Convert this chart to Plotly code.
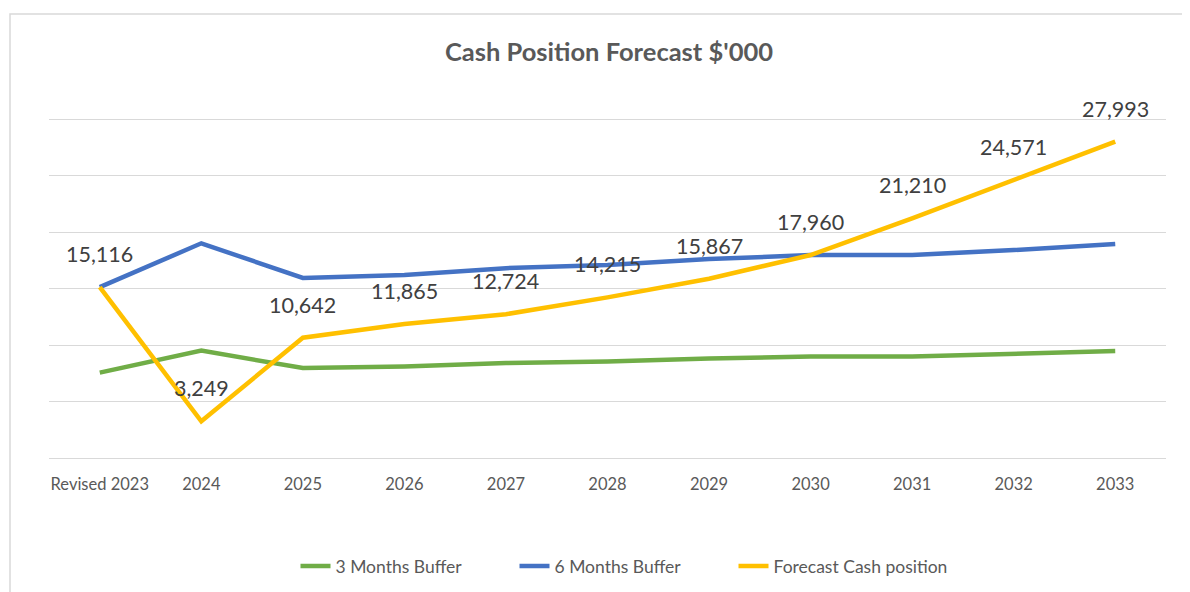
import plotly.graph_objects as go

categories = ["Revised 2023", "2024", "2025", "2026", "2027", "2028", "2029", "2030", "2031", "2032", "2033"]
buffer_3m = [7558, 9500, 7960, 8100, 8400, 8540, 8800, 8980, 8980, 9200, 9470]
buffer_6m = [15116, 19000, 15930, 16200, 16800, 17080, 17600, 17960, 17960, 18400, 18940]
forecast_cash = [15116, 3249, 10642, 11865, 12724, 14215, 15867, 17960, 21210, 24571, 27993]
y_ticks = [0, 5000, 10000, 15000, 20000, 25000, 30000]

FONT = "Lato, Calibri, 'Liberation Sans', sans-serif"

fig = go.Figure()
fig.add_trace(go.Scatter(x=categories, y=buffer_3m, mode="lines", name="3 Months Buffer",
                         line=dict(color="#70AD47", width=4.5)))
fig.add_trace(go.Scatter(x=categories, y=buffer_6m, mode="lines", name="6 Months Buffer",
                         line=dict(color="#4472C4", width=4.5)))
fig.add_trace(go.Scatter(x=categories, y=forecast_cash, mode="lines", name="Forecast Cash position",
                         line=dict(color="#FFC000", width=4.5)))

annotations = []
for i, v in enumerate(forecast_cash):
    annotations.append(dict(x=i, y=v, xref="x", yref="y", text=f"{v:,}", showarrow=False, yshift=33,
                            font=dict(family=FONT, size=21.5, color="#404040")))

# page body has an 8px offset; plot area (figure coords): left 41, right 1158, top 109, bottom 452
OFF = 8
L, R, T, B = 49 - OFF, 1166 - OFF, 117 - OFF, 460 - OFF
PW, PH = R - L, B - T
px_per_unit = 56.5 / 5000
half_span = (PH / px_per_unit) / 2
y_range = [15000 - half_span, 15000 + half_span]

fig.update_layout(
    width=1190, height=592,
    margin=dict(l=L, r=1190 - R, t=T, b=592 - B, autoexpand=False),
    paper_bgcolor="white", plot_bgcolor="white",
    title=dict(text="<b>Cash Position Forecast $'000</b>", x=(609 - OFF - L) / PW,
               xref="paper", xanchor="center",
               y=1 - (52 - OFF) / 592, yanchor="middle",
               font=dict(family=FONT, size=25.5, color="#595959")),
    xaxis=dict(type="category", showgrid=False, zeroline=False, showline=False,
               ticks="", tickfont=dict(family=FONT, size=16.5, color="#595959"),
               ticklabelstandoff=12,
               range=[-0.5, len(categories) - 0.5]),
    yaxis=dict(range=y_range, tickvals=y_ticks, showticklabels=False,
               showgrid=True, gridcolor="#D9D9D9", gridwidth=1.3, zeroline=False),
    legend=dict(orientation="h", x=(624 - OFF - L) / PW, xanchor="center",
                y=(B - (566 - OFF)) / PH, yanchor="middle",
                font=dict(family=FONT, size=17.5, color="#595959"),
                entrywidth=174, entrywidthmode="pixels",
                traceorder="normal"),
    annotations=annotations,
    shapes=[dict(type="rect", xref="paper", yref="paper",
                 x0=(10 - OFF - L) / PW, x1=1.1, y0=-0.6, y1=(B - (14 - OFF)) / PH,
                 line=dict(color="#D9D9D9", width=1.5), fillcolor="rgba(0,0,0,0)", layer="below")],
)

fig.write_html("out.html")
